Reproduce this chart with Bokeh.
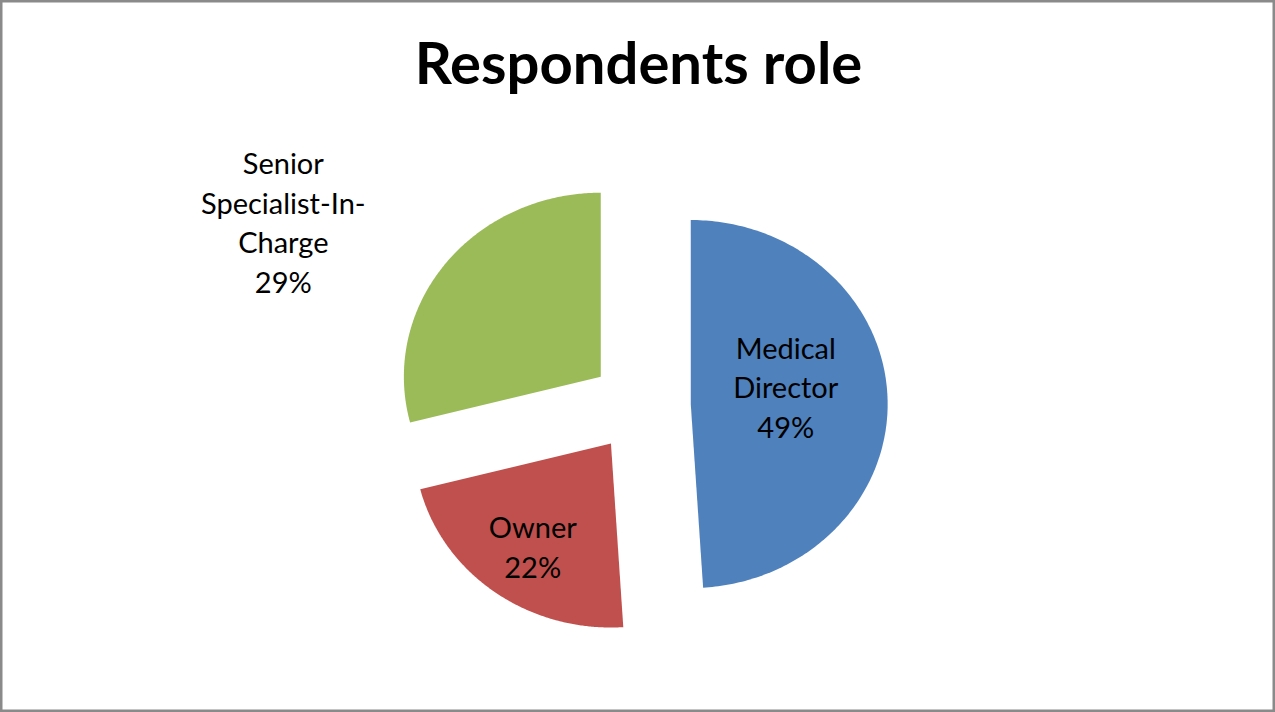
import numpy as np
from bokeh.plotting import figure
from bokeh.models import Range1d, ColumnDataSource
from bokeh.core.properties import value
from bokeh.embed import file_html
from bokeh.resources import INLINE

# --- data -------------------------------------------------------------
title = "Respondents role"
roles = ["Medical Director", "Owner", "Senior Specialist-In-Charge"]
label_lines = [["Medical", "Director"], ["Owner"], ["Senior", "Specialist-In-", "Charge"]]
shares = [49, 22, 29]
colors = ["#4F81BD", "#C0504D", "#9BBB59"]

# --- layout ------------------------------------------------------------
W, H = 1275, 712
CX, CY = 640, 712 - 405       # pie centre (y measured upward)
R = 184                        # pie radius
SX = 1.07                      # horizontal stretch of the pie
EXPLODE = 47                   # distance each slice is pulled out
LINE_GAP = 39.5                # label line spacing
FONT = "Lato"
LABEL_SIZE = 29
TITLE_SIZE = 58
BASE_SHIFT = 0.36              # baseline correction as a fraction of font size
# label placement: (distance from centre, angular nudge in degrees)
LABEL_PLACE = [(136, 1.7), (182, 2.4), (376, 10.4)]

p = figure(width=W, height=H, output_backend="svg", toolbar_location=None,
           x_range=Range1d(0, W), y_range=Range1d(0, H),
           min_border=0, background_fill_color="white",
           border_fill_color="white")
p.axis.visible = False
p.grid.visible = False
p.outline_line_color = "#8a8a8a"
p.outline_line_width = 4

total = float(sum(shares))
start = 90.0
xs, ys, mids = [], [], []
for s in shares:
    sweep = s / total * 360.0
    end = start - sweep
    mid = np.radians((start + end) / 2)
    ox = CX + EXPLODE * SX * np.cos(mid)
    oy = CY + EXPLODE * np.sin(mid)
    t = np.radians(np.linspace(start, end, 200))
    xs.append(np.concatenate([[ox], ox + R * SX * np.cos(t)]).tolist())
    ys.append(np.concatenate([[oy], oy + R * np.sin(t)]).tolist())
    mids.append(mid)
    start = end

p.patches(xs="xs", ys="ys", fill_color="color", line_color=None,
          source=ColumnDataSource(dict(xs=xs, ys=ys, color=colors, role=roles)))

# data labels: category name lines followed by the percentage
tx, ty, tt = [], [], []
for mid, lines, s, (dist, nudge) in zip(mids, label_lines, shares, LABEL_PLACE):
    a = mid + np.radians(nudge)
    ax = CX + dist * SX * np.cos(a)
    ay = CY + dist * np.sin(a) + BASE_SHIFT * LABEL_SIZE
    all_lines = lines + [f"{round(s / total * 100)}%"]
    n = len(all_lines)
    for k, line in enumerate(all_lines):
        tx.append(ax)
        ty.append(ay - (k - (n - 1) / 2) * LINE_GAP)
        tt.append(line)

p.text(x="x", y="y", text="t", source=ColumnDataSource(dict(x=tx, y=ty, t=tt)),
       text_font=value(FONT), text_font_size=f"{LABEL_SIZE}px", text_color="#000000",
       text_align="center", text_baseline="alphabetic")

p.text(x=[638], y=[H - 82 + BASE_SHIFT * TITLE_SIZE], text=[title], text_font=value(FONT),
       text_font_size=f"{TITLE_SIZE}px", text_font_style="bold", text_color="#000000",
       text_align="center", text_baseline="alphabetic")

open("out.html", "w").write(file_html(p, INLINE))
